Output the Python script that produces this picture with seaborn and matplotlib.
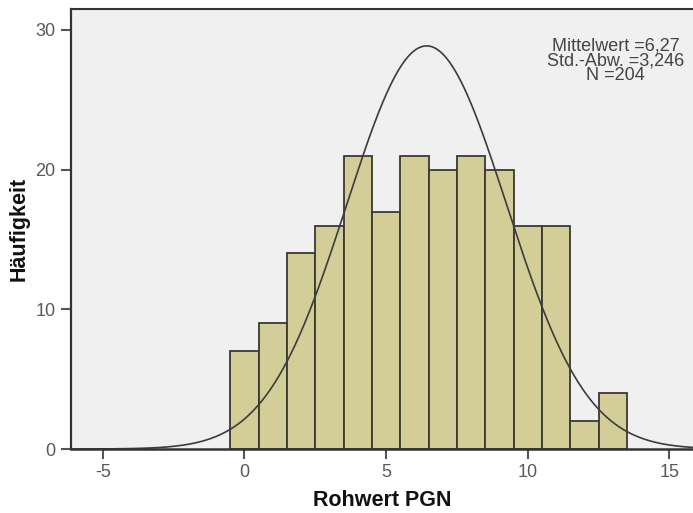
import numpy as np
import pandas as pd
import seaborn as sns
import matplotlib
matplotlib.use("Agg")
import matplotlib.pyplot as plt

# Raw scores (PGN) and how often each occurred
scores = [0, 1, 2, 3, 4, 5, 6, 7, 8, 9, 10, 11, 12, 13]
counts = [7, 9, 14, 16, 21, 17, 21, 20, 21, 20, 16, 16, 2, 4]

# Summary statistics printed in the upper-right box
stat_lines = ["Mittelwert =6,27", "Std.-Abw. =3,246", "N =204"]

# Parameters of the overlaid normal curve
curve_mean = 6.43
curve_sd = 2.82
curve_n = 204
bin_width = 1.0

x_ticks = [-5, 0, 5, 10, 15]
y_ticks = [0, 10, 20, 30]

sns.set_theme(style="white")
plt.rcParams["font.family"] = ["Liberation Sans", "DejaVu Sans"]

W, H = 693, 513
fig = plt.figure(figsize=(W / 100, H / 100), dpi=100)
ax = fig.add_axes([71 / W, 1 - 449 / H, 1 - 71 / W, (449 - 9) / H])
ax.set_facecolor("#f0f0f0")

df = pd.DataFrame({"score": scores, "count": counts})
sns.histplot(data=df, x="score", weights="count", discrete=True, ax=ax,
             color="#d3ce97", edgecolor="#3a3a30", linewidth=1.3, alpha=1.0)

xmin, xmax = -6.12, 15.83
grid = np.linspace(xmin, xmax, 600)
dens = curve_n * bin_width / (curve_sd * np.sqrt(2 * np.pi)) * \
    np.exp(-0.5 * ((grid - curve_mean) / curve_sd) ** 2)
sns.lineplot(x=grid, y=dens, ax=ax, color="#3c3c3c", linewidth=1.2)

ax.set_xlim(xmin, xmax)
ax.set_ylim(0, 31.5)
ax.set_xticks(x_ticks)
ax.set_xticklabels([str(t) for t in x_ticks])
ax.set_yticks(y_ticks)
ax.set_yticklabels([str(t) for t in y_ticks])

ax.tick_params(axis="both", which="major", direction="out", length=7, width=1.5,
               color="#555555", labelcolor="#5a5a5a", labelsize=13,
               left=True, bottom=True)
ax.tick_params(axis="y", pad=4)
ax.tick_params(axis="x", pad=4)

for side in ["left", "bottom", "top"]:
    ax.spines[side].set_visible(True)
    ax.spines[side].set_color("#333333")
ax.spines["left"].set_linewidth(1.6)
ax.spines["bottom"].set_linewidth(1.8)
ax.spines["top"].set_linewidth(1.5)
ax.spines["right"].set_visible(False)

ax.set_xlabel("Rohwert PGN", fontsize=15.5, fontweight="bold", color="#111111",
              labelpad=6)
ax.set_ylabel("Häufigkeit", fontsize=15.5, fontweight="bold", color="#111111",
              labelpad=4)

# Statistics block, one centred multi-line text
ax.text(0.876, 0.882, "\n".join(stat_lines), transform=ax.transAxes,
        ha="center", va="center", multialignment="center", linespacing=0.82,
        fontsize=13, color="#444444")

fig.savefig("out.png", dpi=100, facecolor="white")
